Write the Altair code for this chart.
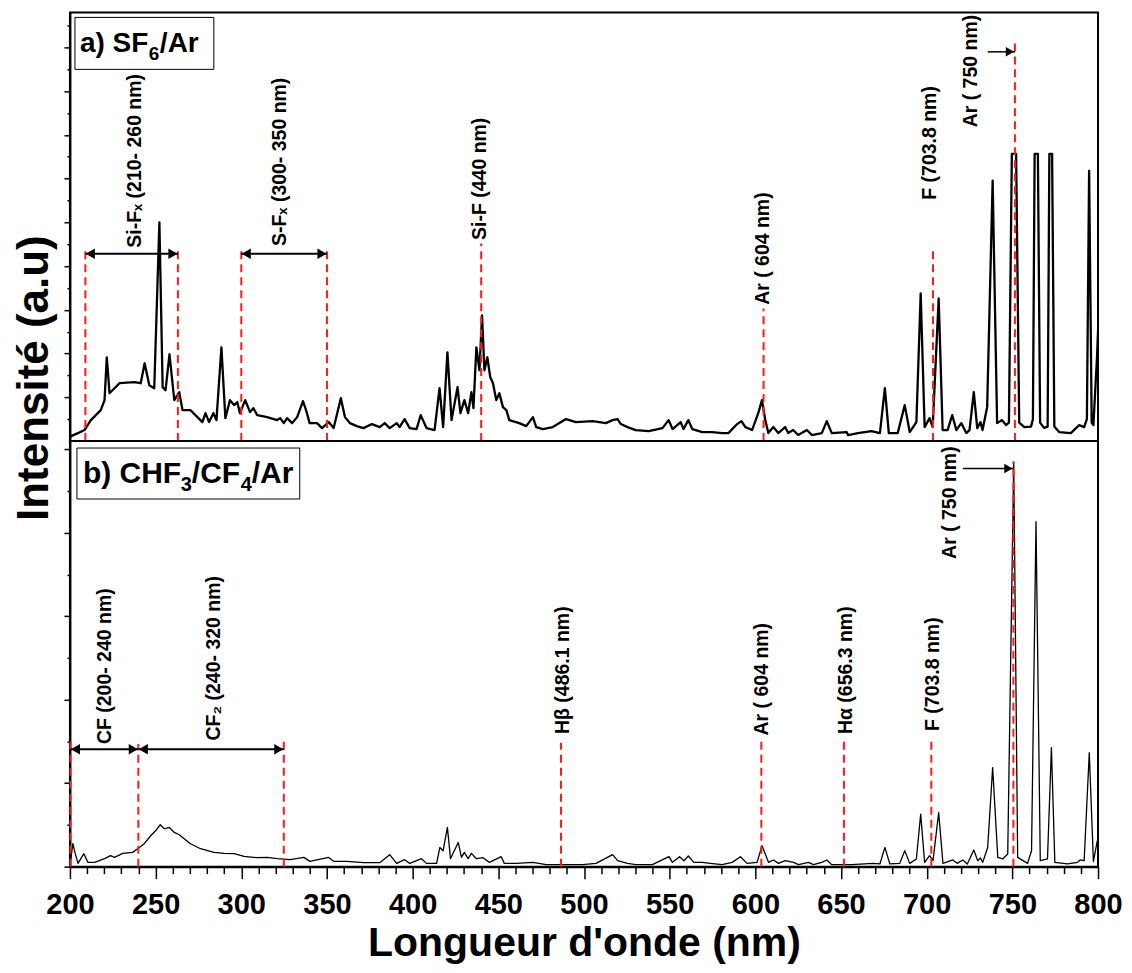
import altair as alt
import pandas as pd

FONT = "Liberation Sans"

# ---------------- spectrum (a) SF6/Ar ----------------
top_nm = [200, 204.7, 208.5, 212.2, 218.0, 220.2, 221.5, 223.1, 228.9, 237.6,
          241.3, 243.6, 246.3, 249.2, 252.2, 254.1, 255.8, 258.1, 260.9, 263.8,
          265.7, 270.3, 274.4, 277.3, 279.1, 281.2, 283.7, 285.5, 288.4, 290.7,
          293.4, 295.8, 297.7, 299.2, 302.3, 305.1, 307.0, 309.3, 315.1, 320.9,
          322.7, 324.8, 326.7, 329.7, 332.6, 336.0, 337.8, 339.9, 344.2, 347.1,
          351.0, 353.9, 358.1, 360.5, 363.4, 367.4, 371.3, 376.2, 380.8, 383.7,
          386.6, 390.7, 392.4, 395.3, 398.3, 402.3, 404.7, 408.1, 412.8, 415.7,
          417.8, 420.3, 422.7, 426.2, 427.9, 430.2, 432.4, 434.3, 435.5, 437.2,
          439.0, 440.5, 441.9, 443.6, 445.3, 446.9, 448.8, 450.6, 452.7, 454.7,
          456.4, 462.2, 466.3, 470.2, 472.1, 476.0, 481.8, 489.5, 495.3, 505.1,
          512.8, 516.7, 519.6, 521.5, 525.4, 530.2, 537.8, 545.8, 549.4, 551.7,
          556.4, 558.1, 560.9, 563.2, 569.0, 574.8, 580.6, 584.3, 589.4, 591.9,
          594.2, 598.1, 601.7, 603.9, 605.8, 607.6, 610.5, 613.4, 617.4, 619.2,
          622.1, 625.0, 630.1, 633.0, 638.8, 641.7, 644.6, 653.3, 654.1, 659.9,
          667.8, 672.7, 675.6, 677.9, 683.1, 687.2, 690.1, 694.0, 696.5, 698.8,
          701.7, 703.5, 707.0, 709.3, 712.2, 714.9, 717.3, 720.2, 723.1, 725.0,
          727.5, 729.5, 731.4, 732.6, 735.3, 738.5, 741.1, 744.0, 746.3, 748.0,
          749.7, 752.2, 754.0, 757.0, 760.9, 762.0, 763.0, 764.9, 766.2, 768.5,
          770.6, 771.6, 773.2, 774.5, 777.3, 784.1, 789.0, 791.9, 793.5, 794.8,
          796.3, 797.3, 799.4, 800.5]
top_int = [100, 182, 251, 479, 707, 935, 1915, 1094, 1322, 1345,
           1322, 1778, 1277, 1208, 5000, 1231, 1163, 1984, 935, 1117,
           707, 707, 547, 433, 638, 433, 638, 479, 2143, 524,
           935, 821, 889, 638, 935, 661, 752, 593, 547, 479,
           524, 410, 524, 410, 547, 912, 707, 410, 410, 296,
           433, 296, 980, 547, 410, 342, 296, 388, 319, 410,
           296, 410, 319, 502, 296, 274, 593, 296, 251, 1208,
           319, 2029, 479, 1231, 638, 935, 638, 1117, 752, 2143,
           1619, 2873, 1619, 1915, 1459, 1322, 935, 1094, 775, 707,
           479, 410, 342, 547, 319, 274, 319, 502, 433, 456,
           410, 479, 502, 388, 319, 251, 228, 296, 479, 274,
           433, 274, 479, 274, 205, 205, 182, 182, 388, 456,
           319, 251, 638, 935, 479, 182, 319, 182, 319, 182,
           251, 137, 251, 137, 182, 456, 182, 205, 137, 182,
           228, 182, 1208, 182, 182, 821, 205, 433, 3374, 319,
           524, 319, 3260, 251, 251, 593, 251, 410, 182, 251,
           1117, 296, 433, 251, 775, 5951, 410, 479, 365, 420,
           6566, 6566, 420, 319, 330, 500, 6566, 6566, 420, 300,
           330, 6566, 6566, 330, 205, 182, 365, 319, 500, 6179,
           420, 365, 1915, 3000]

# ---------------- spectrum (b) CHF3/CF4/Ar ----------------
bot_nm = [200.4, 201.7, 203.1, 204.7, 208.1, 210.5, 214.4, 220.2, 223.7, 226.0,
          230.8, 236.6, 239.5, 243.4, 247.1, 250.0, 252.7, 255.1, 258.0, 260.9,
          263.8, 266.7, 270.3, 276.2, 284.1, 289.9, 295.8, 301.6, 309.3, 315.1,
          320.9, 328.5, 336.5, 340.1, 351.0, 353.9, 361.6, 371.3, 380.8, 386.6,
          390.7, 395.3, 398.3, 405.2, 408.1, 414.0, 415.9, 417.8, 420.3, 422.1,
          426.6, 428.5, 430.2, 432.4, 434.3, 437.2, 441.1, 444.8, 451.7, 453.5,
          460.5, 470.2, 477.9, 487.6, 499.2, 507.0, 516.7, 519.6, 525.4, 530.2,
          539.9, 549.6, 551.6, 555.8, 558.3, 560.9, 564.1, 569.0, 573.8, 580.6,
          586.5, 591.3, 595.2, 601.0, 603.9, 605.8, 607.7, 610.6, 613.5, 617.4,
          622.3, 625.2, 631.0, 633.9, 638.8, 641.7, 644.6, 656.2, 668.8, 672.7,
          675.6, 678.5, 684.3, 687.2, 690.1, 694.0, 696.5, 698.8, 701.7, 703.7,
          707.0, 709.5, 715.3, 717.8, 721.1, 723.7, 727.5, 729.8, 731.4, 732.7,
          735.6, 738.5, 741.5, 744.4, 747.3, 750.8, 753.1, 758.9, 761.2, 763.8,
          766.3, 770.5, 772.8, 774.8, 782.2, 788.0, 789.5, 791.9, 794.9, 797.3,
          799.6]
bot_int = [143, 550, 311, 79, 311, 103, 103, 191, 263, 222,
           318, 342, 430, 550, 741, 860, 1004, 908, 939, 820,
           765, 669, 550, 430, 342, 318, 311, 246, 215, 222,
           191, 167, 222, 127, 222, 127, 127, 96, 96, 287,
           79, 167, 79, 191, 79, 79, 461, 382, 939, 191,
           581, 222, 342, 191, 318, 191, 215, 103, 239, 79,
           79, 103, 48, 48, 48, 79, 287, 143, 79, 48,
           48, 239, 103, 239, 143, 256, 103, 103, 79, 48,
           103, 239, 79, 103, 502, 304, 103, 160, 79, 143,
           103, 48, 103, 48, 103, 160, 48, 48, 79, 65,
           461, 65, 79, 382, 79, 184, 1260, 103, 263, 143,
           1298, 79, 160, 79, 160, 65, 399, 143, 208, 103,
           461, 2373, 222, 184, 304, 9703, 222, 79, 382, 8269,
           143, 184, 2851, 103, 65, 103, 160, 143, 2732, 127,
           621]

# ---------------- annotations ----------------
top_line_nm = [209, 263, 300, 350, 440, 604.8, 703.7, 751.5]
top_line_top = [4360, 4360, 4360, 4360, 4514, 3032, 4355, 9104]
top_arrow_from = [209, 300]
top_arrow_to = [263, 350]
top_arrow_val = [4280, 4280]
top_single_from = [735.6]
top_single_to = [751.5]
top_single_val = [8899]
top_labels = ["Si-F\u2093 (210- 260 nm)", "S-F\u2093 (300- 350 nm)", "Si-F (440 nm)",
              "Ar ( 604 nm)", "F (703.8 nm)", "Ar ( 750 nm)"]
top_label_nm = [237.8, 322.7, 439.5, 604.7, 701.7, 725.9]
top_label_val = [6407, 6384, 5996, 4400, 6817, 8459]

bot_line_nm = [200.3, 239.9, 324.8, 486.6, 603.5, 651.7, 702.7, 750.6]
bot_line_top = [3059, 2940, 3011, 2971, 3059, 3011, 3011, 9703]
bot_arrow_from = [200.3, 239.9]
bot_arrow_to = [239.9, 324.8]
bot_arrow_val = [2813, 2813]
bot_single_from = [721.1]
bot_single_to = [750.6]
bot_single_val = [9543]
bot_labels = ["CF (200- 240 nm)", "CF\u2082 (240- 320 nm)", "H\u03b2 (486.1 nm)",
              "Ar ( 604 nm)", "H\u03b1 (656.3 nm)", "F (703.8 nm)", "Ar ( 750 nm)"]
bot_label_nm = [220.6, 284.0, 487.6, 604.0, 652.7, 703.6, 713.8]
bot_label_val = [4804, 4995, 4708, 4493, 4708, 4613, 8724]

top_ticks = list(range(500, 9501, 500))
bot_ticks = list(range(0, 10001, 1000))
x_ticks = list(range(200, 801, 10))

W = 1029
H_TOP = 429
H_BOT = 426
one = pd.DataFrame({"k": [0]})

# ---------------- helpers ----------------
def make_panel(nm, inten, line_w, lines_nm, lines_top, arr_from, arr_to, arr_val,
               s_from, s_to, s_val, labels, lab_nm, lab_val, x_enc, y_enc):
    spec = alt.Chart(pd.DataFrame({"nm": nm, "val": inten})).mark_line(
        color="black", strokeWidth=line_w, clip=True, strokeJoin="round"
    ).encode(x=x_enc, y=y_enc)
    dashed = alt.Chart(pd.DataFrame({"nm": lines_nm, "val": [0] * len(lines_nm),
                                     "val2": lines_top})).mark_rule(
        color="#ff1a1a", strokeDash=[8, 5], strokeWidth=2
    ).encode(x=x_enc, y=y_enc, y2="val2:Q")
    arr_df = pd.DataFrame({"nm": arr_from, "nm2": arr_to, "val": arr_val})
    shafts = alt.Chart(arr_df).mark_rule(color="black", strokeWidth=2).encode(
        x=x_enc, x2="nm2:Q", y=y_enc)
    lheads = alt.Chart(pd.DataFrame({"nm": arr_from, "val": arr_val})).mark_point(
        shape="triangle-left", filled=True, color="black", size=110, opacity=1, xOffset=5
    ).encode(x=x_enc, y=y_enc)
    rheads = alt.Chart(pd.DataFrame({"nm": arr_to, "val": arr_val})).mark_point(
        shape="triangle-right", filled=True, color="black", size=110, opacity=1, xOffset=-5
    ).encode(x=x_enc, y=y_enc)
    s_df = pd.DataFrame({"nm": s_from, "nm2": s_to, "val": s_val})
    sshaft = alt.Chart(s_df).mark_rule(color="black", strokeWidth=1.5).encode(
        x=x_enc, x2="nm2:Q", y=y_enc)
    shead = alt.Chart(pd.DataFrame({"nm": s_to, "val": s_val})).mark_point(
        shape="triangle-right", filled=True, color="black", size=90, opacity=1, xOffset=-5
    ).encode(x=x_enc, y=y_enc)
    texts = alt.Chart(pd.DataFrame({"nm": lab_nm, "val": lab_val, "label": labels})).mark_text(
        angle=270, align="center", baseline="middle", fontSize=19.5, font=FONT,
        fontWeight="bold", color="black"
    ).encode(x=x_enc, y=y_enc, text="label:N")
    return [spec, dashed, shafts, lheads, rheads, sshaft, shead, texts]


def ptext(txt, px, py, size, **kw):
    return alt.Chart(one).mark_text(
        text=txt, fontSize=size, font=FONT, fontWeight="bold", color="black",
        align=kw.pop("align", "left"), baseline=kw.pop("baseline", "alphabetic"), **kw
    ).encode(x=alt.value(px), y=alt.value(py))


def pbox(x1, x2, y1, y2):
    return alt.Chart(one).mark_rect(fill="white", stroke="black", strokeWidth=1).encode(
        x=alt.value(x1), x2=alt.value(x2), y=alt.value(y1), y2=alt.value(y2))


# ---------------- encodings ----------------
xs = alt.Scale(domain=[200, 800], nice=False, zero=False)
x_top = alt.X("nm:Q", scale=xs, axis=None)
y_top = alt.Y("val:Q", scale=alt.Scale(domain=[0, 9800], nice=False, zero=False),
              axis=alt.Axis(values=top_ticks, labels=False, title=None, grid=False,
                            tickSize={"condition": {"test": "datum.value % 1000 === 0", "value": 6},
                                      "value": 3}))
x_bot = alt.X("nm:Q", scale=xs,
              axis=alt.Axis(values=x_ticks, title="Longueur d'onde (nm)",
                            labelExpr="datum.value % 50 === 0 ? datum.label : ''",
                            labelOverlap=False, labelFlush=False,
                            tickSize={"condition": {"test": "datum.value % 50 === 0", "value": 12},
                                      "value": 7},
                            labelFontSize=29, labelFont=FONT, labelFontWeight="bold",
                            labelPadding=12, titleFontSize=41, titleFont=FONT,
                            titleFontWeight="bold", titlePadding=4, grid=False))
y_bot = alt.Y("val:Q", scale=alt.Scale(domain=[0, 10200], nice=False, zero=False),
              axis=alt.Axis(values=bot_ticks, labels=False, title=None, grid=False,
                            tickSize={"condition": {"test": "datum.value % 2000 === 0", "value": 6},
                                      "value": 3}))

top_layers = make_panel(top_nm, top_int, 2.3, top_line_nm, top_line_top,
                        top_arrow_from, top_arrow_to, top_arrow_val,
                        top_single_from, top_single_to, top_single_val,
                        top_labels, top_label_nm, top_label_val, x_top, y_top)
top_layers += [
    pbox(5, 144, 5, 57),
    ptext("a) SF", 10, 40, 28),
    ptext("6", 79, 48, 19),
    ptext("/Ar", 90, 40, 28),
    ptext("Intensit\u00e9 (a.u)", -22, 366, 44, angle=270, align="center"),
]
top = alt.layer(*top_layers).properties(width=W, height=H_TOP)

bot_layers = make_panel(bot_nm, bot_int, 1.3, bot_line_nm, bot_line_top,
                        bot_arrow_from, bot_arrow_to, bot_arrow_val,
                        bot_single_from, bot_single_to, bot_single_val,
                        bot_labels, bot_label_nm, bot_label_val, x_bot, y_bot)
bot_layers += [
    pbox(7, 230, 7, 58),
    ptext("b) CHF", 13, 42, 30),
    ptext("3", 111, 50, 20),
    ptext("/CF", 122, 42, 30),
    ptext("4", 171, 50, 20),
    ptext("/Ar", 182, 42, 30),
]
bottom = alt.layer(*bot_layers).properties(width=W, height=H_BOT)

chart = alt.vconcat(top, bottom, spacing=0, bounds="flush").properties(
    padding={"left": 4, "top": 3, "right": 0, "bottom": 0}
).configure_view(stroke="black", strokeWidth=2).configure_axis(
    domainColor="black", domainWidth=2, tickColor="black", tickWidth=1.5,
    labelColor="black", titleColor="black"
)

chart.save("out.html", embed_options={"renderer": "svg", "actions": False})
